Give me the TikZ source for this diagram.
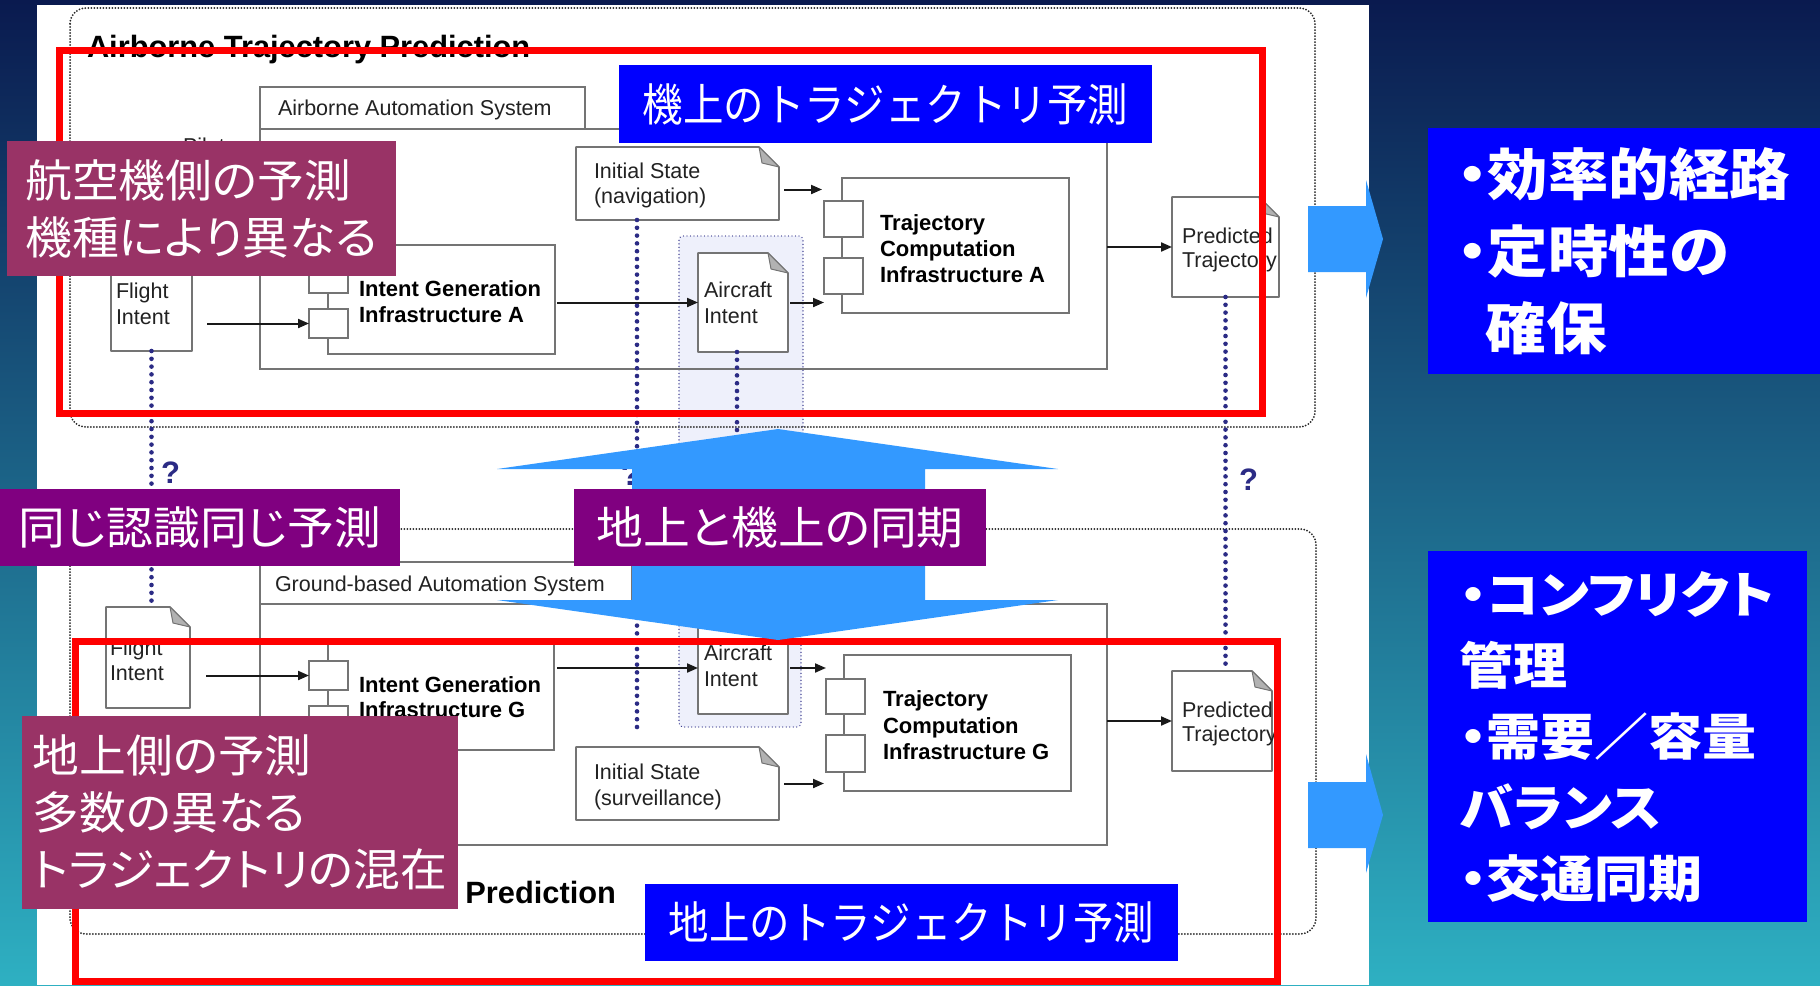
\documentclass[tikz,border=0pt]{standalone}
\usepackage{fontspec}
\usetikzlibrary{arrows.meta}
\setmainfont{Liberation Sans}
\newfontfamily\jpwide[RawFeature=+palt,FakeStretch=1.04]{Noto Sans CJK JP}
\newfontfamily\jpnarrow[FakeStretch=0.9]{Noto Sans CJK JP}
\newfontfamily\jpbold[RawFeature=+palt,FakeStretch=1.08]{Noto Sans CJK JP}
\definecolor{purpA}{HTML}{993366}
\definecolor{purpB}{HTML}{800080}
\definecolor{lblue}{HTML}{0000FF}
\definecolor{arrblue}{HTML}{3399FF}
\definecolor{navy}{HTML}{2B2B85}
\definecolor{boxgray}{HTML}{747474}
\definecolor{hlfill}{HTML}{EEF0FB}
\definecolor{txtgray}{HTML}{222222}
\definecolor{bgtop}{HTML}{0A1A4F}
\definecolor{bgmid}{HTML}{0B3A9A}
\definecolor{bgbot}{HTML}{2EB0C2}
\tikzset{
  box/.style={draw=boxgray, line width=1.6pt, fill=white, inner sep=0pt, outer sep=0pt},
  obox/.style={draw=boxgray, line width=1.6pt, inner sep=0pt, outer sep=0pt},
  docn/.style={draw=none, inner sep=0pt, outer sep=0pt},
  hl/.style={draw=navy, fill=hlfill, line width=1.3pt, line cap=round, dash pattern=on 0pt off 3.5pt, rounded corners=4pt, inner sep=0pt, outer sep=0pt},
  frame/.style={draw=black!85, line width=2pt, line cap=round, dash pattern=on 0pt off 3pt, rounded corners=16pt},
  txt/.style={inner sep=0pt, outer sep=0pt, text=txtgray, font=\fontsize{21.5}{26}\selectfont},
  btxt/.style={inner sep=0pt, outer sep=0pt, text=black, font=\bfseries\fontsize{22}{26}\selectfont},
  ttl/.style={inner sep=0pt, outer sep=0pt, text=black, font=\bfseries\fontsize{30.8}{36}\selectfont},
  arr/.style={draw=black!90, line width=2pt, -{Triangle[length=11pt,width=9pt]}},
  navdot/.style={draw=navy, line width=4.6pt, line cap=round, dash pattern=on 0pt off 7.8pt},
  qmark/.style={inner sep=0pt, outer sep=0pt, text=navy, font=\bfseries\fontsize{31}{36}\selectfont},
  redbox/.style={draw=red, line width=7pt},
  plab/.style={inner sep=0pt, outer sep=0pt, text=white, align=left, anchor=north west, font=\jpwide\fontsize{45}{57}\selectfont},
  blab/.style={fill=lblue, inner sep=0pt, outer sep=0pt, text=white, anchor=north west, font=\jpnarrow\fontsize{45}{50}\selectfont},
  rlab/.style={fill=lblue, inner sep=0pt, outer sep=0pt, text=white, align=left, anchor=north west},
  bigarrow/.style={fill=arrblue},
}
\newcommand{\mkbox}[6][box]{\node[#1, anchor=north west, minimum width={#5-#3}, minimum height={#6-#4}] (#2) at (#3,#4) {};}
\newcommand{\docshape}[1]{%
  \filldraw[draw=boxgray, fill=white, line width=1.6pt, line join=round] (#1.north west) -- ([xshift=-20pt]#1.north east) -- ([yshift=-20pt]#1.north east) -- (#1.south east) -- (#1.south west) -- cycle;
  \filldraw[draw=boxgray, fill=black!30, line width=1pt, line join=round] ([xshift=-20pt]#1.north east) -- ([yshift=-20pt]#1.north east) -- ([xshift=-17pt,yshift=-16pt]#1.north east) -- cycle;}
\begin{document}
\begin{tikzpicture}[x=1pt, y=-1pt]
\useasboundingbox (0,0) rectangle (1820,985);
% background
\shade[top color=bgtop, middle color=bgmid, bottom color=bgbot] (0,0) rectangle (1820,985);
\fill[white] (37,5) rectangle (1369,985);

% highlight regions round the aircraft intents
\mkbox[hl]{hlA}{679}{236}{803}{520}
\mkbox[hl]{hlG}{679}{560}{801}{727}

% ===== Airborne section =====
\draw[frame] (70,8) rectangle (1315,427);
\node[ttl, anchor=base west] (titleA) at (87,57) {Airborne Trajectory Prediction};
\mkbox[obox]{autoTabA}{260}{87}{585}{129}
\node[txt, anchor=base west] (autoTabAt) at (278,115) {Airborne Automation System};
\mkbox[obox]{autoA}{260}{129}{1107}{369}
\node[txt, anchor=base west] (pilot) at (183,153.5) {Pilot};

\mkbox[docn]{isA}{576}{147}{779}{220}\docshape{isA}
\node[txt, anchor=base west] (isAt1) at (594,178) {Initial State};
\node[txt, anchor=base west] (isAt2) at (594,203) {(navigation)};

\mkbox{tcA}{842}{178}{1069}{313}
\mkbox{tcsqA1}{824}{201}{863}{237}
\mkbox{tcsqA2}{824}{258}{863}{294}
\node[btxt, anchor=base west] (tcAt1) at (880,230) {Trajectory};
\node[btxt, anchor=base west] (tcAt2) at (880,256) {Computation};
\node[btxt, anchor=base west] (tcAt3) at (880,282) {Infrastructure A};

\mkbox{igA}{328}{245}{555}{354}
\mkbox{igsqA1}{309}{264}{348}{293}
\mkbox{igsqA2}{309}{309}{348}{338}
\node[btxt, anchor=base west] (igAt1) at (359,296) {Intent Generation};
\node[btxt, anchor=base west] (igAt2) at (359,322) {Infrastructure A};

\mkbox[docn]{fiA}{111}{250}{192}{351}\docshape{fiA}
\node[txt, anchor=base west] (fiAt1) at (116,298) {Flight};
\node[txt, anchor=base west] (fiAt2) at (116,324) {Intent};

\mkbox[docn]{aiA}{698}{253}{788}{352}\docshape{aiA}
\node[txt, anchor=base west] (aiAt1) at (704,297) {Aircraft};
\node[txt, anchor=base west] (aiAt2) at (704,323) {Intent};

\mkbox[docn]{ptA}{1172}{197}{1279}{297}\docshape{ptA}
\node[txt, anchor=base west] (ptAt1) at (1182,243) {Predicted};
\node[txt, anchor=base west] (ptAt2) at (1182,267) {Trajectory};

\draw[arr, shorten <=15pt] (fiA.east |- igsqA2.west) -- (igsqA2.west);
\draw[arr, shorten <=2pt] (igA.east |- aiA.west) -- (aiA.west);
\draw[arr, shorten <=2pt] (aiA.east) -- (aiA.east -| tcsqA2.west);
\draw[arr, shorten <=5pt, shorten >=2pt] ([yshift=-6pt]isA.east) -- ([yshift=-6pt]isA.east -| tcsqA1.west);
\draw[arr] (autoA.east |- ptA.west) -- (ptA.west);

% ===== Ground section =====
\draw[frame] (70,529) rectangle (1316,934);
\node[ttl, anchor=base east] (titleG) at (616,903) {Prediction};
\mkbox[obox]{autoTabG}{260}{562}{632}{604}
\node[txt, anchor=base west] (autoTabGt) at (275,591) {Ground-based Automation System};
\mkbox[obox]{autoG}{260}{604}{1107}{845}

\mkbox[docn]{fiG}{106}{607}{190}{708}\docshape{fiG}
\node[txt, anchor=base west] (fiGt1) at (110,655) {Flight};
\node[txt, anchor=base west] (fiGt2) at (110,680) {Intent};

\mkbox{igG}{328}{644}{554}{750}
\mkbox{igsqG1}{309}{661}{348}{690}
\mkbox{igsqG2}{309}{706}{348}{735}
\node[btxt, anchor=base west] (igGt1) at (359,692) {Intent Generation};
\node[btxt, anchor=base west] (igGt2) at (359,717) {Infrastructure G};

\mkbox[docn]{aiG}{698}{622}{788}{714}\docshape{aiG}
\node[txt, anchor=base west] (aiGt1) at (704,660) {Aircraft};
\node[txt, anchor=base west] (aiGt2) at (704,686) {Intent};

\mkbox{tcG}{844}{655}{1071}{791}
\mkbox{tcsqG1}{826}{679}{865}{714}
\mkbox{tcsqG2}{826}{735}{865}{772}
\node[btxt, anchor=base west] (tcGt1) at (883,706) {Trajectory};
\node[btxt, anchor=base west] (tcGt2) at (883,733) {Computation};
\node[btxt, anchor=base west] (tcGt3) at (883,759) {Infrastructure G};

\mkbox[docn]{isG}{576}{747}{779}{820}\docshape{isG}
\node[txt, anchor=base west] (isGt1) at (594,779) {Initial State};
\node[txt, anchor=base west] (isGt2) at (594,805) {(surveillance)};

\mkbox[docn]{ptG}{1172}{671}{1272}{771}\docshape{ptG}
\node[txt, anchor=base west] (ptGt1) at (1182,717) {Predicted};
\node[txt, anchor=base west] (ptGt2) at (1182,741) {Trajectory};

\draw[arr, shorten <=16pt] (fiG.east |- igsqG1.west) -- (igsqG1.west);
\draw[arr, shorten <=3pt] (igG.east |- aiG.west) -- (aiG.west);
\draw[arr, shorten <=2pt] (aiG.east) -- (aiG.east -| tcsqG1.west);
\draw[arr, shorten <=5pt, shorten >=2pt] (isG.east) -- (isG.east -| tcsqG2.west);
\draw[arr] (autoG.east |- ptG.west) -- (ptG.west);

% ===== navy dotted links =====
\coordinate (navEnd) at (637,733);
\draw[navdot] (fiA.south) -- (fiA.south |- fiG.north);
\draw[navdot] (isA.south -| navEnd) -- (navEnd);
\draw[navdot] ([xshift=-6pt]aiA.south) -- ([xshift=-6pt]aiA.south |- aiG.north);
\draw[navdot] (ptA.south) -- (ptA.south |- ptG.north);
\node[qmark, anchor=base west] (q1) at (161,483) {?};
\node[qmark, anchor=base west] (q2) at (621,485) {?};
\node[qmark, anchor=base west] (q3) at (1239,490) {?};

% ===== red boxes =====
\draw[redbox] (59,50) rectangle (1262,413);
\draw[redbox] (75,641) rectangle (1277,981);

% ===== big double arrow =====
\fill[bigarrow] (778,429) -- (1058,469) -- (925,469) -- (925,600) -- (1058,600) -- (778,640) -- (497,600) -- (632,600) -- (632,469) -- (497,469) -- cycle;

% ===== labels =====
\node[blab, minimum width=533pt, minimum height=78pt] (lblA) at (619,65) {機上のトラジェクトリ予測};
\node[blab, minimum width=533pt, minimum height=77pt] (lblG) at (645,884) {地上のトラジェクトリ予測};
\node[plab, fill=purpA, minimum width=389pt, minimum height=135pt] (lblP1) at (7,141) {航空機側の予測\\機種により異なる};
\node[plab, fill=purpB, minimum width=400pt, minimum height=77pt] (lblP2) at (0,489) {同じ認識同じ予測};
\node[plab, fill=purpB, minimum width=412pt, minimum height=77pt] (lblP3) at (574,489) {地上と機上の同期};
\node[plab, fill=purpA, minimum width=436pt, minimum height=193pt] (lblP4) at (22,716) {地上側の予測\\多数の異なる\\トラジェクトリの混在};

% ===== right side =====
\fill[bigarrow] (1308,206) -- (1366,206) -- (1366,180) -- (1383,239) -- (1366,298) -- (1366,272) -- (1308,272) -- cycle;
\fill[bigarrow] (1308,782) -- (1366,782) -- (1366,754) -- (1383,815) -- (1366,873) -- (1366,848) -- (1308,848) -- cycle;
\node[rlab, minimum width=392pt, minimum height=246pt, font=\jpbold\bfseries\fontsize{56}{77}\selectfont] (rb1) at (1428,128) {・効率的経路\\・定時性の\\\hspace*{0.5em}確保};
\node[rlab, minimum width=379pt, minimum height=371pt, font=\jpbold\bfseries\fontsize{50}{71}\selectfont] (rb2) at (1428,551) {・コンフリクト\\管理\\・需要／容量\\バランス\\・交通同期};
\end{tikzpicture}
\end{document}
